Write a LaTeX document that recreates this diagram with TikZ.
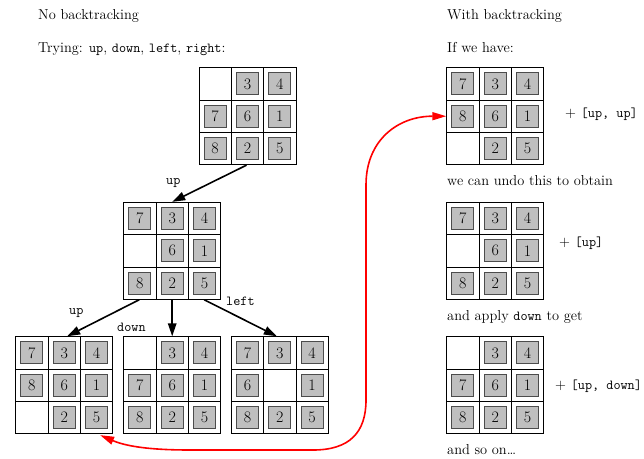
\documentclass[tikz,border=0pt]{standalone}
\usetikzlibrary{arrows.meta,calc}
\newcommand{\ttsz}{\fontsize{13.8}{15}\selectfont\ttfamily}
\tikzset{
  cellbox/.style={draw=black, line width=0.9pt, minimum size=32.33pt, inner sep=0pt, fill=white},
  tilebox/.style={draw=black!70, line width=1.1pt, fill=gray!50, minimum size=22pt, inner sep=0pt, font=\fontsize{16}{16}\selectfont},
  gridnode/.style={minimum size=97pt, inner sep=0pt, draw=black, line width=0.9pt},
  txt/.style={anchor=base west, inner sep=0pt, font=\fontsize{14.4}{17}\selectfont},
  lbl/.style={anchor=base west, inner sep=0pt, font=\ttsz},
  move/.style={line width=1.6pt, -{Triangle[length=13pt,width=8.5pt]}},
  back/.style={draw=red, line width=1.6pt, {Triangle[length=14pt,width=8pt]}-{Triangle[length=14pt,width=8pt]}},
}
\newcommand{\puzzle}[4]{%
  \foreach \v [count=\i from 0] in {#4} {
    \pgfmathtruncatemacro\rr{int(\i/3)}
    \pgfmathtruncatemacro\cc{mod(\i,3)}
    \node[cellbox] at ({#2+(\cc+0.5)*32.33},{#3+(\rr+0.5)*32.33}) {};
    \ifnum\v>0 \node[tilebox] at ({#2+(\cc+0.5)*32.33},{#3+(\rr+0.5)*32.33}) {\v};\fi
  }
  \node[gridnode] (#1) at ({#2+48.5},{#3+48.5}) {};
}
\begin{document}
\begin{tikzpicture}[x=1pt,y=-1pt]
\useasboundingbox (0,0) rectangle (644,458);
% left side texts
\node[txt] (t1) at (38,19.3) {No backtracking};
\node[txt] (t2) at (38,52) {Trying: {\ttsz up}, {\ttsz down}, {\ttsz left}, {\ttsz right}:};
% grids
\puzzle{T}{199}{67.7}{0,3,4,7,6,1,8,2,5}
\puzzle{M}{123.7}{202.3}{7,3,4,0,6,1,8,2,5}
\puzzle{A}{15.7}{336.7}{7,3,4,8,6,1,0,2,5}
\puzzle{B}{123.7}{336.7}{0,3,4,7,6,1,8,2,5}
\puzzle{C}{231.3}{336.7}{7,3,4,6,0,1,8,2,5}
\puzzle{R1}{446.7}{67.7}{7,3,4,8,6,1,0,2,5}
\puzzle{R2}{446.7}{202.3}{7,3,4,0,6,1,8,2,5}
\puzzle{R3}{446.7}{336.7}{0,3,4,7,6,1,8,2,5}
% move arrows
\draw[move] ($(T.south)+(-1,0)$) -- (M.north);
\draw[move] ($(M.south)+(-33,0)$) -- ($(A.north)+(3,0)$);
\draw[move] (M.south) -- (B.north);
\draw[move] ($(M.south)+(32,0)$) -- ($(C.north)+(-3,0)$);
\node[lbl] (l1) at (166,184.5) {up};
\node[lbl] (l2) at (69,314) {up};
\node[lbl] (l3) at (117,331.7) {down};
\node[lbl] (l4) at (226,305) {left};
% right side texts
\node[txt] (r1) at (447,19.3) {With backtracking};
\node[txt] (r2) at (447,52) {If we have:};
\node[txt] (r3) at (447,185.7) {we can undo this to obtain};
\node[txt] (r4) at (447,320.7) {and apply {\ttsz down} to get};
\node[txt] (r5) at (447,454) {and so on\dots};
\node[txt] (p1) at (565,117.3) {$+$ {\ttsz [up, up]}};
\node[txt] (p2) at (559,246.5) {$+$ {\ttsz [up]}};
\node[txt] (p3) at (555,389) {$+$ {\ttsz [up, down]}};
% backtracking arrow
\draw[back] ($(A.south east)+(-13,1)$) .. controls (130,448) and (160,450) .. (190,450) -- (313,450) .. controls (350,450) and (366,432) .. (366,400) -- (366,185) .. controls (366,140) and (398,116.2) .. (R1.west);
\end{tikzpicture}
\end{document}
